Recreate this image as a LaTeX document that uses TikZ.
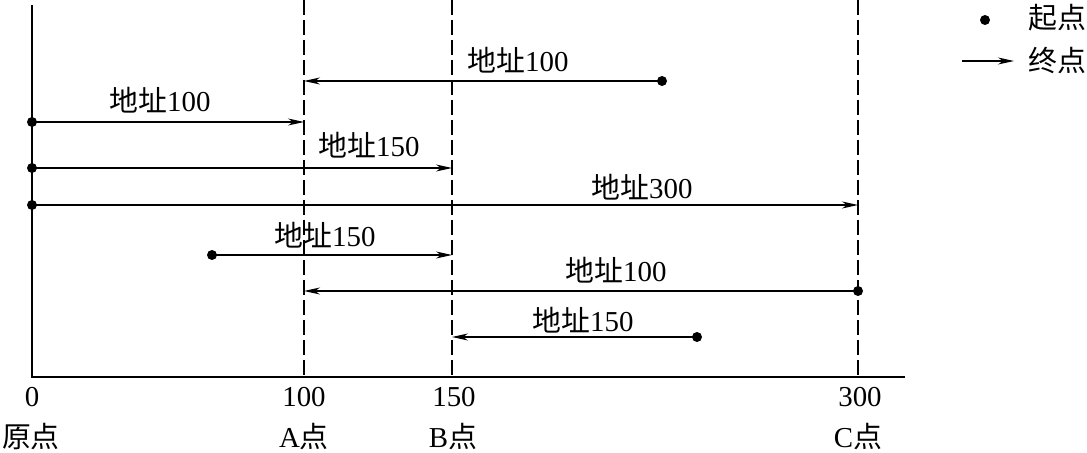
\documentclass[tikz,border=0pt]{standalone}
\usepackage{fontspec}
\setmainfont{Liberation Serif}
\newfontfamily\cjk{Noto Sans CJK SC}
\usetikzlibrary{arrows.meta}
\begin{document}
\begin{tikzpicture}[x=1bp,y=-1bp,
  axis/.style={line width=1.6bp},
  guide/.style={line width=1.3bp,dash pattern=on 15bp off 5bp},
  vec/.style={line width=1.2bp,-{Stealth[length=16bp,width=7bp,inset=5bp]}},
  dot/.style={circle,fill=black,inner sep=0pt,minimum size=10bp},
  lbl/.style={font=\fontsize{29}{31}\selectfont,inner sep=0pt},
  tick/.style={font=\fontsize{29}{31}\selectfont,inner sep=0pt}]
\useasboundingbox (0,0) rectangle (1087,453);
% axes
\coordinate (o) at (32,377);
\coordinate (otop) at (32,5);
\coordinate (xend) at (905,377);
\draw[axis] (otop) -- (o) -- (xend);
% guides
\coordinate (a) at (304,377); \coordinate (atop) at (304,0);
\coordinate (b) at (452,377); \coordinate (btop) at (452,0);
\coordinate (c) at (858,377); \coordinate (ctop) at (858,0);
\draw[guide] (atop) -- (a);
\draw[guide] (btop) -- (b);
\draw[guide] (ctop) -- (c);
% arrows
\node[dot] (s1) at (662,81) {}; \coordinate (e1) at (304,81);
\draw[vec] (s1.center) -- (e1);
\node[lbl] (l1) at (518,60) {{\cjk 地址}100};
\node[dot] (s2) at (32,122) {}; \coordinate (e2) at (304,122);
\draw[vec] (s2.center) -- (e2);
\node[lbl] (l2) at (160,100) {{\cjk 地址}100};
\node[dot] (s3) at (32,168) {}; \coordinate (e3) at (452,168);
\draw[vec] (s3.center) -- (e3);
\node[lbl] (l3) at (369,145) {{\cjk 地址}150};
\node[dot] (s4) at (32,205) {}; \coordinate (e4) at (858,205);
\draw[vec] (s4.center) -- (e4);
\node[lbl] (l4) at (642,187) {{\cjk 地址}300};
\node[dot] (s5) at (212,255) {}; \coordinate (e5) at (452,255);
\draw[vec] (s5.center) -- (e5);
\node[lbl] (l5) at (325,235) {{\cjk 地址}150};
\node[dot] (s6) at (858,291) {}; \coordinate (e6) at (304,291);
\draw[vec] (s6.center) -- (e6);
\node[lbl] (l6) at (616,270) {{\cjk 地址}100};
\node[dot] (s7) at (697,337) {}; \coordinate (e7) at (452,337);
\draw[vec] (s7.center) -- (e7);
\node[lbl] (l7) at (583,320) {{\cjk 地址}150};
% tick labels
\node[tick] (t0) at (32,397) {0};
\node[tick] (t1) at (304,397) {100};
\node[tick] (t2) at (454,397) {150};
\node[tick] (t3) at (860,397) {300};
\node[lbl] (n0) at (31,437) {{\cjk 原点}};
\node[lbl] (n1) at (304,437) {A{\cjk 点}};
\node[lbl] (n2) at (453,437) {B{\cjk 点}};
\node[lbl] (n3) at (858,437) {C{\cjk 点}};
% legend
\node[dot] (ld) at (985,20) {};
\node[lbl] (lt1) at (1057,18) {{\cjk 起点}};
\coordinate (la1) at (962,61); \coordinate (la2) at (1014,61);
\draw[vec] (la1) -- (la2);
\node[lbl] (lt2) at (1057,60) {{\cjk 终点}};
\end{tikzpicture}
\end{document}
